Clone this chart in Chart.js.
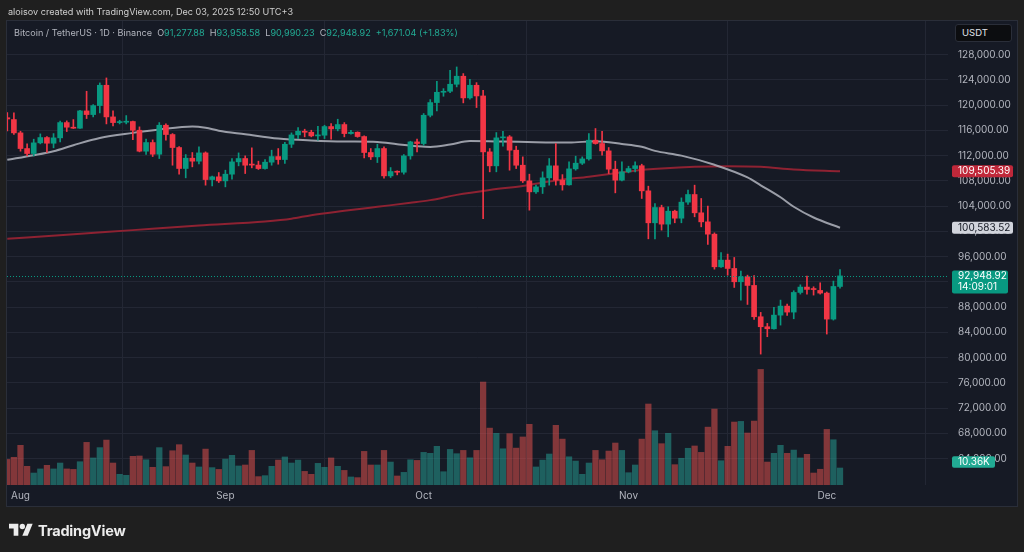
<!DOCTYPE html>
<html>
<head>
<meta charset="utf-8">
<title>BTCUSDT 1D</title>
<script src="https://cdn.jsdelivr.net/npm/chart.js@4.4.1/dist/chart.umd.min.js"></script>
<style>
  html, body { margin:0; padding:0; background:#1f1f1f; width:1024px; height:552px; overflow:hidden; font-family: Inter, "Noto Sans", sans-serif; }
  #wrap { position:relative; width:1024px; height:552px; }
  canvas { position:absolute; left:0; top:0; }
  .hdr { position:absolute; left:8px; top:6px; font-size:9.1px; color:#cfcfcf; white-space:nowrap; z-index:2; }
  .legend { position:absolute; left:14px; top:27px; font-size:9.1px; color:#b2b5be; white-space:nowrap; z-index:2; }
  .legend .v { color:#22ab94; margin-right:5px; }
  .usdt { position:absolute; left:955px; top:24px; width:57px; height:18px; box-sizing:border-box; background:#0c0d10; border:1px solid #2a2e39; border-radius:3px; color:#e0e3eb; font-size:9.5px; line-height:16px; padding-left:6px; z-index:2; }
  .logo { position:absolute; left:9px; top:520px; height:20px; display:flex; align-items:center; z-index:2; }
  .logo span { color:#ececec; font-weight:700; font-size:14.5px; margin-left:5px; letter-spacing:-0.2px; }
</style>
</head>
<body>
<div id="wrap">
  <canvas id="chart" width="1024" height="552"></canvas>
  <div class="hdr">aloisov created with TradingView.com, Dec 03, 2025 12:50 UTC+3</div>
  <div class="legend" id="legend"></div>
  <div class="usdt">USDT</div>
  <div class="logo">
    <svg width="24" height="19" viewBox="0 0 36 28"><path fill="#ececec" d="M14 22H7V11H0V4h14v18z"/><circle fill="#ececec" cx="20" cy="8" r="4"/><path fill="#ececec" d="M28 22h-8l7.5-18h8L28 22z"/></svg>
    <span>TradingView</span>
  </div>
</div>
<script>
// daily candles, Jul 30 -> Dec 3 2025; x = days since Aug 1
const firstDay = -2;
const opens = [
  118000,117710,115600,113120,112330,114020,114860,113960,114810,117230,116500,116340,119080,118500,119920,123140,
  118130,117230,117290,117400,116020,112700,114070,112220,116810,115340,113280,109960,111590,111120,112430,108210,108640,
  108000,109060,111010,111540,110650,110500,109950,110960,111850,111380,113800,115280,115860,115700,115120,115230,
  116600,116230,116920,115490,115700,115020,112490,111800,113120,108790,109480,109370,111960,114170,
  113910,118390,120400,122030,122190,123300,124570,121140,123140,121450,112590,110380,114810,114970,112860,110480,
  108000,106260,107050,108480,110380,108110,107370,109900,110800,111480,114440,113910,112750,109850,108110,
  109430,109950,110400,106420,101360,103780,101150,103200,102090,104630,105840,102940,101510,99560,94390,95450,
  94130,92020,92810,91440,86480,84900,84580,86740,88170,87220,90330,91180,90910,90650,
  90230,86110,91277.88
];
const highs = [
  118800,118760,115860,113860,114600,115440,115020,115490,117450,117500,117710,119190,122190,120080,123510,124300,
  119080,117600,118340,117450,116550,114600,114490,117230,117020,115490,113440,112170,112490,113380,112590,108740,109320,
  109690,111540,112430,111960,113230,111120,111380,112860,113120,114120,115600,116440,116180,116020,116650,116810,
  117080,117760,117230,116020,115760,115120,113120,113810,113380,110110,109590,112170,114280,114600,
  118660,120870,123780,122610,125520,126040,124990,124090,123560,122350,113120,115650,115860,115180,113490,111800,
  109060,107320,109430,111540,113910,108990,111010,111910,111800,115490,116290,115860,113280,111120,111010,
  110320,111010,110640,107160,104420,104150,103890,103360,105310,106530,107320,105210,103990,99770,96660,96400,
  95870,93710,93070,93020,87170,85430,87960,89120,88480,90600,91540,92920,91230,91860,
  90400,92130,93958.58
];
const lows = [
  115900,115340,112700,111960,111960,113860,112490,113230,114180,115810,116290,116290,117870,118130,118760,117020,
  116710,117020,117020,114540,112590,112170,111850,111540,114440,110480,109060,108480,110220,110690,107320,107210,107740,
  107050,108270,110380,109160,110060,109800,109850,110480,110640,110750,113280,114700,114970,114970,114440,114700,
  114600,115920,114970,115390,114910,111640,111380,110900,108430,108530,108950,109060,111430,112590,
  113650,118130,119080,121400,121980,122880,120350,120930,119610,102000,109430,109430,113490,109690,109950,107740,
  103360,106000,106000,107320,107320,106530,107320,109690,110590,111270,113810,112060,109160,106100,108000,
  109270,109430,105210,98820,98820,100200,99140,101360,101360,104260,102310,100720,97930,94020,94290,93070,
  91120,89120,88430,86060,80570,83320,84530,85160,86690,86160,90070,90070,89910,90070,
  83740,85950,90990.23
];
const closes = [
  117800,115600,113120,112330,114020,114860,113960,114810,117230,116500,116340,119080,118500,119920,123140,118130,
  117230,117290,117400,116020,112700,114070,112220,116810,115340,113280,109960,111590,111120,112430,108210,108640,108000,
  109060,111010,111540,110480,110500,109950,110960,111850,111380,113800,115280,115860,115700,115120,115230,116600,
  116230,116920,115490,115700,115020,112490,111800,113120,108790,109480,109370,111960,114170,113910,
  118390,120400,122030,122190,123300,124570,121140,123140,121450,112590,110380,114810,114970,112860,110480,108000,
  106260,107050,108480,110380,108110,107370,109900,110800,111480,114440,113910,112750,109850,108110,109430,
  109950,110400,106420,101360,103780,101150,103200,102090,104630,105840,102940,101510,99560,94390,95450,94130,
  92020,92810,91440,86480,84900,84580,86740,88170,87220,90330,91180,90810,90790,90230,
  86110,91277.88,92948.92
];
// volume, thousands of BTC
const volumes = [
  15.6,16.9,
  24.2,11.4,7.3,9.8,12.0,9.8,13.4,9.8,9.5,14.2,26.0,16.5,22.8,27.4,13.4,6.5,5.9,17.5,17.7,15.4,10.8,22.8,11.2,20.9,24.6,18.3,13.4,11.0,21.9,10.6,9.5,
  15.8,18.1,11.6,12.2,21.1,5.1,5.7,11.4,15.2,17.1,13.4,15.2,8.3,6.5,13.2,10.8,16.5,11.4,8.9,4.9,4.5,20.5,12.2,12.2,21.1,14.0,5.5,7.7,15.4,15.0,
  19.9,19.3,23.6,8.1,21.7,19.1,21.1,16.6,21.1,62.8,34.7,31.5,22.1,31.3,22.5,29.3,37.0,11.0,15.2,18.9,36.4,28.0,17.2,14.6,6.5,13.4,21.1,15.4,20.7,25.6,21.1,
  7.5,12.2,28.0,49.4,33.1,25.2,31.5,12.4,16.3,22.4,23.8,19.9,35.3,46.3,14.8,23.6,38.4,38.8,31.7,39.0,70.5,14.0,19.3,24.2,19.3,21.3,16.5,18.7,7.3,9.6,
  33.9,27.6,10.36
];

// moving averages (day, value)
const fastDays   = [-2, 2, 5, 8, 12, 17, 21, 26, 28, 30, 34, 39, 44, 49, 54, 57, 60, 62, 65, 68, 73, 78, 83, 87, 91, 94, 96, 100, 105, 110, 112, 115, 117, 120, 124];
const fastValues = [111330,112060,112700,113650,114800,115600,116130,116600,116400,115950,115390,114700,114390,114230,114170,113800,113490,113380,113750,114300,114230,114120,114070,114280,113850,113400,112750,112000,110550,108550,107300,105400,103900,102200,100583.52];
const slowDays   = [-2, 7, 17, 27, 37, 41, 44, 49, 54, 59, 62, 66, 71, 76, 81, 86, 90, 93, 97, 102, 107, 112, 117, 124];
const slowValues = [98820,99460,100200,100930,101570,102000,102570,103250,103890,104520,104950,105780,106560,107200,108050,108670,109200,109620,109950,110220,110320,110220,109800,109505.39];

const priceTicks = [64000,68000,72000,76000,80000,84000,88000,92000,96000,100000,104000,108000,112000,116000,120000,124000,128000];
const monthStarts = [0, 31, 61, 92, 122];
const monthLabels = ['Aug', 'Sep', 'Oct', 'Nov', 'Dec'];
const countdown = '14:09:01';

const UP = '#089981', DOWN = '#f23645';
const VUP = 'rgba(38,166,154,0.5)', VDOWN = 'rgba(239,83,80,0.5)';

const last = closes.length - 1;
const isUp = i => closes[i] >= opens[i];
const fmt = v => v.toLocaleString('en-US', {minimumFractionDigits: 2, maximumFractionDigits: 2});

// legend line
const chg = closes[last] - closes[last - 1];
document.getElementById('legend').innerHTML =
  'Bitcoin / TetherUS · 1D · Binance&nbsp;&nbsp;' +
  'O<span class="v">' + fmt(opens[last]) + '</span>' +
  'H<span class="v">' + fmt(highs[last]) + '</span>' +
  'L<span class="v">' + fmt(lows[last]) + '</span>' +
  'C<span class="v">' + fmt(closes[last]) + '</span>' +
  '<span class="v">+' + fmt(chg) + ' (+' + (chg / closes[last - 1] * 100).toFixed(2) + '%)</span>';

const xs = opens.map((_, i) => firstDay + i);
const bodyData = xs.map((x, i) => ({x: x, y: [opens[i], closes[i]]}));
const wickData = xs.map((x, i) => ({x: x, y: [lows[i], highs[i]]}));
const volData = xs.map((x, i) => ({x: x, y: volumes[i]}));
const fastData = fastDays.map((x, i) => ({x: x, y: fastValues[i]}));
const slowData = slowDays.map((x, i) => ({x: x, y: slowValues[i]}));

function labelBox(c, yc, top, h, w, bg, fg, lines) {
  c.fillStyle = bg;
  c.beginPath();
  c.roundRect(952, top, w, h, 2);
  c.fill();
  c.fillStyle = fg;
  c.textBaseline = 'middle';
  c.textAlign = 'left';
  lines.forEach((t, k) => c.fillText(t, 958, yc + k * 11));
}

const decor = {
  id: 'decor',
  beforeDraw(chart) {
    const c = chart.ctx;
    c.save();
    c.fillStyle = '#1f1f1f';
    c.fillRect(0, 0, 1024, 552);
    c.fillStyle = '#161a25';
    c.fillRect(7, 20, 1010, 486);
    c.strokeStyle = '#2a2e39';
    c.lineWidth = 1;
    c.strokeRect(6.5, 20.5, 1011, 486);
    c.restore();
  },
  afterDatasetsDraw(chart) {
    const c = chart.ctx, a = chart.chartArea, y = chart.scales.y, yv = chart.scales.yv;
    const py = y.getPixelForValue(closes[last]);
    c.save();
    c.strokeStyle = UP;
    c.lineWidth = 1;
    c.setLineDash([1, 2]);
    c.beginPath();
    c.moveTo(a.left, Math.round(py) + 0.5);
    c.lineTo(a.right, Math.round(py) + 0.5);
    c.stroke();
    c.setLineDash([]);
    c.font = '10px Inter, "Noto Sans", sans-serif';
    const ys = y.getPixelForValue(slowValues[slowValues.length - 1]);
    labelBox(c, ys, ys - 6, 12, 61, '#c0283a', '#ffffff', [fmt(slowValues[slowValues.length - 1])]);
    const yf = y.getPixelForValue(fastValues[fastValues.length - 1]);
    labelBox(c, yf, yf - 6, 12, 61, '#d1d4dc', '#131722', [fmt(fastValues[fastValues.length - 1])]);
    labelBox(c, py + 0.5, py - 5.5, 23, 56, UP, '#ffffff', [fmt(closes[last]), countdown]);
    const yvv = yv.getPixelForValue(volumes[last]) - 6;
    labelBox(c, yvv, yvv - 5.7, 11.4, 43, '#22ab94', '#ffffff', [volumes[last].toFixed(2) + 'K']);
    c.restore();
  }
};

Chart.defaults.font.family = 'Inter, "Noto Sans", sans-serif';
Chart.defaults.font.size = 10;
Chart.defaults.color = '#b2b5be';

new Chart(document.getElementById('chart').getContext('2d'), {
  type: 'bar',
  data: {
    datasets: [
      { type: 'bar', data: bodyData, yAxisID: 'y', grouped: false, barThickness: 5, minBarLength: 1,
        backgroundColor: c => isUp(c.dataIndex) ? UP : DOWN, borderWidth: 0, order: 1 },
      { type: 'bar', data: wickData, yAxisID: 'y', grouped: false, barThickness: 1,
        backgroundColor: c => isUp(c.dataIndex) ? UP : DOWN, borderWidth: 0, order: 2 },
      { type: 'line', data: fastData, yAxisID: 'y', borderColor: 'rgba(178,181,190,0.85)', borderWidth: 2,
        pointRadius: 0, cubicInterpolationMode: 'monotone', order: 3 },
      { type: 'line', data: slowData, yAxisID: 'y', borderColor: '#8e2232', borderWidth: 2,
        pointRadius: 0, cubicInterpolationMode: 'monotone', order: 3 },
      { type: 'bar', data: volData, yAxisID: 'yv', grouped: false, barThickness: 5.6,
        backgroundColor: c => isUp(c.dataIndex) ? VUP : VDOWN, borderWidth: 0, order: 5 }
    ]
  },
  options: {
    responsive: false,
    animation: false,
    layout: { padding: { left: 7, top: 21, right: 7, bottom: 46 } },
    plugins: { legend: { display: false }, tooltip: { enabled: false } },
    scales: {
      x: {
        type: 'linear', min: -2.043, max: 140.34, offset: false,
        grid: { color: '#232734', drawTicks: false },
        border: { display: false },
        afterBuildTicks: s => { s.ticks = monthStarts.map(v => ({value: v})); },
        afterFit: s => { s.height = 21; },
        ticks: { autoSkip: false, maxRotation: 0, padding: 5, color: '#b2b5be',
                 callback: (v, i) => monthLabels[i] }
      },
      y: {
        position: 'right', min: 59838, max: 133317,
        grid: { color: '#232734', drawTicks: false },
        border: { display: false },
        afterBuildTicks: s => { s.ticks = priceTicks.map(v => ({value: v})); },
        afterFit: s => { s.width = 69; },
        ticks: { padding: 10, color: '#b2b5be', callback: v => fmt(v) }
      },
      yv: { display: false, min: 0, max: 283 }
    }
  },
  plugins: [decor]
});
</script>
</body>
</html>
